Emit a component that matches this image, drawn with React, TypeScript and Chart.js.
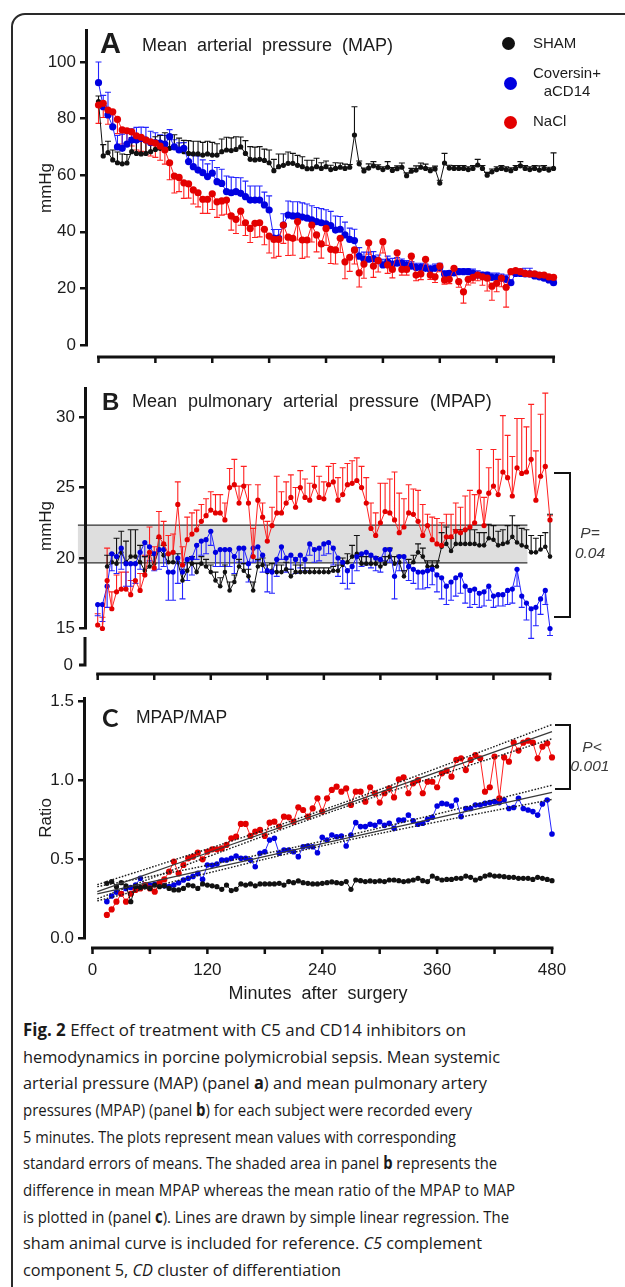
import React, { useEffect, useMemo, useRef } from "react";
import { Chart, registerables } from "chart.js";

Chart.register(...registerables);

// ---------------- data ----------------
const MINUTES_AB = Array.from({ length: 97 }, (_, i) => i * 5);
const MINUTES_C = Array.from({ length: 94 }, (_, i) => 15 + i * 5);
const X_TICKS = [0, 60, 120, 180, 240, 300, 360, 420, 480];
const X_LABELS_C = [0, 120, 240, 360, 480];
const MAP_Y_TICKS = [0, 20, 40, 60, 80, 100];
const MPAP_Y_TICKS = [15, 20, 25, 30];
const RATIO_Y_TICKS = [0, 0.5, 1.0, 1.5];

// Panel A: mean arterial pressure (mmHg)
const MAP_SHAM = [86, 66.8, 68, 65.4, 64.4, 64, 64.3, 68.3, 67.7, 67.5, 67.7, 68.3, 69.1, 69.5, 70, 69.5, 69.8, 69.1, 68.3, 67.7, 67.5, 67.5, 67.1, 67.5, 67.1, 67.1, 68.3, 68.9, 68.7, 69.1, 70, 67.7, 65.6, 65.4, 65.6, 65.2, 64.4, 61.6, 63, 63.5, 64.2, 64.2, 63.5, 63, 62.3, 62.3, 63,
  62.4, 63.0, 62.0, 62.4, 62.8, 62.4, 62.8, 74.2, 64.0, 61.5, 62.5, 63.3, 62.7, 62.0, 62.8, 61.7, 62.3, 62.8, 59.8, 61.4, 61.8, 62.8, 62.4, 61.6, 62.2, 57.2, 64.3, 62.5, 62.4, 62.4, 62.4, 62.0, 62.4, 63.6, 62.4, 60.0, 61.2, 62.0, 62.4, 62.0, 61.6, 62.4, 63.3, 62.4, 62.0, 62.4, 61.8, 62.4, 61.8, 62.4];
const MAP_SHAM_SEM = [2, 4, 4, 3.5, 3.8, 3.5, 3, 5, 4.5, 5.5, 4.5, 4, 4.5, 4.5, 5, 4.5, 4.5, 4, 4, 4.5, 4.5, 4.5, 4.5, 4.5, 4.5, 4, 4.5, 4.5, 4.5, 4.5, 3.5, 4.5, 4.5, 4.5, 4.5, 4, 4.5, 4, 4.5, 4, 4, 3.5, 3.5, 3.5, 3, 3, 3,
  2, 2, 1.5, 2, 1.5, 1.5, 1, 10, 1, 1, 1.5, 1.5, 1, 1, 2, 1, 1, 1.5, 1, 1, 1.5, 1.5, 1.5, 1, 1, 1, 3.4, 1, 1, 1, 1, 1, 1, 2, 1, 1, 1, 1, 1, 1, 1, 1, 1.5, 1, 1, 1, 1.5, 1, 1, 5.5];
const MAP_COV = [92.7, 84.2, 81.3, 77.1, 70, 69.5, 71, 72.4, 72.4, 73, 72.4, 71.5, 71.5, 71.3, 71, 73.6, 70, 68.9, 69.5, 64.8, 63, 61.8, 60.9, 59.5, 60.7, 57.7, 57.1, 54.2, 53.8, 54.2, 53.6, 52.4, 51.2, 51.2, 51.2, 49.5, 47.7, 37.8, 37.8, 42.4, 45.9, 45.6, 45.6, 45.2, 44.8, 44.2, 43.6,
  43.2, 42.8, 42.2, 40.6, 40.9, 38.9, 37.3, 36.9, 31.4, 30.3, 30.3, 30.5, 29.8, 28.3, 29.4, 28.6, 28.9, 28.9, 28.3, 27.9, 27.4, 27.4, 27.1, 26.7, 27.1, 27.4, 25.1, 25.3, 25.5, 25.9, 25.9, 25.9, 25.3, 24.7, 24.7, 24.7, 23.9, 23.9, 23.6, 23.2, 22, 25.3, 25.3, 25.1, 25.1, 24.4, 24.1, 23.6, 23, 22];
const MAP_COV_SEM = [7.3, 4, 8, 5, 4, 5, 5, 4, 4.5, 4, 4.5, 4, 3.5, 3, 3, 2.5, 2.5, 2.5, 2, 3, 4, 5, 4.5, 4.5, 4.5, 5, 5, 5.5, 5.5, 5, 5.5, 5.5, 5, 5, 5, 4.5, 5, 3, 3, 4, 5, 5, 5, 5, 5, 5, 5,
  5, 5, 5, 5, 4.5, 4.5, 4, 4, 3, 2.5, 2.5, 2.5, 2, 2, 2, 2, 2, 1.5, 1.5, 1.5, 1.5, 1.5, 1.5, 1.5, 1.5, 1.5, 1, 1, 1, 1, 1, 1, 1.5, 1.5, 1, 1, 1.5, 1.5, 1.5, 1.5, 1, 1.5, 1.5, 2, 2, 1.5, 1.5, 1.5, 1.5, 1];
const MAP_NACL = [84.8, 85.4, 83, 82.4, 79.7, 76, 75.7, 75.3, 73.9, 73.4, 72.4, 71.8, 71.3, 70.3, 68.9, 64.4, 59.7, 59.2, 57.3, 56.9, 54.8, 53.8, 51.5, 51.5, 53.4, 50.6, 50.9, 51.2, 45.6, 44.4, 47.3, 43.2, 41.2, 43, 43.2, 40.9, 38.5, 37.3, 37.3, 42.4, 38.1, 37.7, 43.6, 37.1, 37.1, 42.4, 38.9,
  35.7, 41.2, 33.8, 33.6, 37.7, 29.4, 31, 33.6, 25.5, 28.6, 36.1, 27.9, 29.8, 36.5, 28.3, 26.7, 32.6, 26.7, 26.7, 31.4, 24.7, 25.1, 30.3, 24.7, 24.1, 27.9, 23, 23.2, 27.1, 22.4, 18.8, 23.2, 23.9, 24.7, 24.1, 23.6, 20.8, 21.8, 23.6, 20.4, 25.9, 26.3, 25.9, 25.3, 25.1, 25.1, 24.7, 24.7, 24.1, 23.9];
const MAP_NACL_SEM = [6.5, 5, 5, 5, 5, 5, 4.5, 5, 5, 5, 5, 5, 5, 5, 5, 6, 6, 5, 5.5, 5, 5, 5, 5, 5, 5.5, 5.5, 5, 5, 5, 5, 5, 4.5, 5, 5, 5, 5.5, 6, 6.5, 6, 6.5, 6.5, 6, 6.5, 6.5, 6, 6, 6,
  5, 6, 5, 5, 5, 6, 5, 5, 5, 5, 4, 4, 4, 4, 3, 3, 3, 2, 2, 2, 2, 2, 2, 1.5, 2, 2, 1.5, 1.5, 2, 2, 4, 2, 2, 2, 3, 4.5, 5, 3, 3, 7, 1, 1, 1, 1, 1, 1, 1, 1, 1, 1];

// Panel B: mean pulmonary arterial pressure (mmHg)
const MPAP_SHAM = [null, null, 19.4, 19.7, 19.6, 20.4, 19.7, 20.1, 20.1, 19.7, 19.1, 19.4, 19.6, 20.6, 20.2, 19.7, 19.7, 19.7, 18.4, 19.1, 19.6, 19, 19.6, 19.4, 19, 18.4, 18, 19, 17.7, 18.3, 19.4, 19.1, 18.7, 17.7, 19.4, 19.5, 19, 19.1, 19, 19, 19.2, 18.7, 19, 19,
  19, 19, 19, 19, 19, 19, 19.1, 19.1, 19.5, 19.7, 20.1, 20.3, 19.6, 19.6, 19.6, 19.6, 19.4, 19.6, 20.1, 19.6, 19.7, 18.7, 19.4, 19.7, 20.4, 20.1, 19.4, 19.4, 19.4, 20.8, 21, 20.5, 21, 21, 21, 21, 21, 20.9, 20.9, 21.4, 21.3, 20.9, 21, 21.1, 21.5, 21.1, 20.9, 20.8, 20.4, 20.4, 20.6, 20.8, 20.1];
const MPAP_SHAM_SEM = [0, 0, 0.8, 0.6, 1.8, 1.5, 1.5, 1.9, 1.9, 1.2, 1, 0.8, 0.8, 0.8, 0.7, 0.6, 0.6, 0.6, 0.8, 0.6, 0.5, 0.6, 0.5, 0.5, 0.5, 0.6, 0.6, 0.5, 0.6, 0.5, 0.5, 0.5, 0.5, 0.6, 0.5, 0.5, 0.5, 0.5, 0.5, 0.5, 0.5, 0.5, 0.5, 0.5,
  0.3, 0.3, 0.3, 0.3, 0.3, 0.3, 0.3, 0.4, 0.5, 0.6, 0.8, 1.3, 0.5, 0.5, 0.5, 0.5, 0.4, 0.5, 0.6, 0.5, 0.5, 0.4, 0.5, 0.5, 0.6, 0.6, 0.4, 0.4, 0.4, 1.0, 1.2, 0.9, 1.0, 1.0, 1.0, 1.0, 1.0, 0.9, 0.9, 1.0, 1.0, 1.0, 1.0, 1.2, 1.5, 1.2, 1.2, 1.2, 1.2, 1.0, 1.0, 1.0, 3.0];
const MPAP_COV = [16.7, 16.7, 18, 20.3, 20.1, 20.7, 19.6, 19.6, 19.6, 20.4, 21.1, 20.8, 20.3, 20.6, 20.6, 19, 19, 20, 19, 19.9, 20, 20.9, 21.2, 21.3, 21.9, 20.4, 20.6, 20.6, 20.6, 20.1, 20.7, 20.7, 19.6, 20.7, 20.8, 20.2, 19.1, 19, 19.9, 20.8, 20, 20.2, 19.9, 20.2,
  19.9, 21, 20.6, 20.7, 21, 21.1, 20.7, 20, 19.7, 19.1, 19.4, 20.1, 20.3, 20.4, 20.2, 20, 19.9, 20.6, 20.6, 18.7, 20.1, 20.1, 19.4, 19.2, 19, 19, 19.1, 19.2, 18.8, 18.6, 18, 18.3, 18.6, 18.8, 18, 17.7, 17.8, 17.5, 17.6, 18, 17.3, 17.4, 17.4, 17.7, 17.8, 19.2, 17.3, 16.8, 16.4, 16.5, 17.1, 17.7, 15];
const MPAP_COV_SEM = [0.8, 1.2, 1.5, 1.2, 1.2, 1.5, 1.6, 1.6, 1.4, 1.2, 1, 1, 1.2, 1.4, 1.2, 2, 2, 1.8, 1.9, 1.5, 1.2, 1, 1, 1, 1, 1, 1.2, 1.2, 1.2, 1.2, 1, 1.1, 1.3, 1, 1, 1.2, 1.5, 1.5, 1.2, 0.9, 1, 1, 1, 0.9,
  0.8, 0.8, 0.9, 0.9, 0.8, 0.8, 1.2, 1.3, 1.5, 1.3, 1.2, 1, 0.9, 0.9, 0.9, 0.9, 0.9, 0.8, 0.9, 1.6, 1, 1, 1, 1, 1.2, 1.2, 1.2, 1.1, 1.2, 1.5, 1.3, 1.3, 1.3, 1.3, 1.2, 1.2, 1.1, 1, 1, 1, 0.8, 0.8, 0.8, 1, 1, 1.2, 0.8, 1.2, 2.1, 1.3, 1.1, 1, 0.5];
const MPAP_NACL = [15.25, 15, 18.4, 16.4, 17.6, 17.8, 17.8, 17.4, 18.4, 17.7, 18.8, 20.4, 19.3, 21.5, 21, 20.3, 20.4, 23.8, 19.5, 21.3, 21.7, 22, 22.6, 23, 23.4, 23.2, 23.2, 22.7, 25, 25.2, 23.9, 25.1, 23.9, 20.1, 24.1, 22.9, 21.2, 22.3, 23.2, 23.2, 23.9, 24.3, 23.6, 25,
  24.3, 24.1, 25.1, 24.3, 24.2, 25.2, 25.4, 24.1, 24.5, 25.2, 25.3, 25.5, 25.0, 23.9, 22.1, 21.6, 22.5, 23.3, 23.2, 22.7, 21.8, 22.2, 23.2, 23.1, 22.6, 21.6, 22.3, 21.3, 21.0, 20.9, 21.5, 21.5, 21.9, 21.8, 22.0, 22.2, 22.5, 24.7, 22.3, 24.6, 25.1, 24.5, 26.1, 25.7, 24.4, 26.4, 26.0, 26.1, 27.0, 24.1, 25.8, 26.5, 22.7];
const MPAP_NACL_SEM = [0.8, 0.8, 2.3, 1.2, 1.2, 1.2, 1.2, 1, 1.2, 1.2, 1.4, 1.8, 1.5, 1.8, 1.6, 1.3, 1.3, 1.6, 1.3, 1.6, 1.5, 1.4, 1.2, 1.2, 1.3, 1.3, 1.3, 1.2, 1.35, 1.8, 1.2, 1.4, 1.3, 2, 1.1, 1, 1.4, 1.3, 2.6, 1.5, 1.5, 1.6, 1.4, 1.2,
  1.3, 1.2, 1.4, 1.5, 1.2, 1.3, 1.3, 1.6, 1.9, 1.5, 1.6, 1.6, 1.5, 1.8, 1.8, 1.6, 2.8, 2.0, 2.4, 3.4, 2.8, 2.0, 2.0, 1.8, 2.2, 2.2, 0.8, 1.6, 1.8, 1.6, 1.6, 1.6, 2.0, 1.8, 2.4, 2.6, 2.0, 3.0, 2.0, 1.8, 2.6, 2.5, 4.0, 3.0, 2.8, 3.5, 3.9, 3.2, 3.9, 3.5, 4.4, 5.2, 0.3];
const MPAP_BAND_MINUTES = [-21, 456];
const MPAP_BAND_VALUES = [19.65, 22.34];

// Panel C: MPAP / MAP ratio
const RATIO_SHAM = [0.346, 0.357, 0.325, 0.35, 0.33, 0.23, 0.325, 0.32, 0.325, 0.314, 0.335, 0.325, 0.33, 0.314, 0.304, 0.304, 0.314, 0.335, 0.33, 0.314, 0.342, 0.335, 0.33, 0.325, 0.308, 0.335, 0.3, 0.308, 0.342, 0.335, 0.342, 0.33, 0.342, 0.342, 0.342, 0.342, 0.346, 0.335, 0.357, 0.35, 0.361,
  0.35, 0.346, 0.342, 0.342, 0.346, 0.35, 0.355, 0.35, 0.346, 0.357, 0.308, 0.367, 0.363, 0.357, 0.361, 0.357, 0.361, 0.357, 0.367, 0.367, 0.363, 0.357, 0.361, 0.367, 0.378, 0.363, 0.357, 0.392, 0.378, 0.367, 0.371, 0.371, 0.378, 0.378, 0.392, 0.384, 0.367, 0.378, 0.392, 0.399, 0.392, 0.392, 0.388, 0.384, 0.384, 0.378, 0.378, 0.378, 0.371, 0.384, 0.378, 0.371, 0.363];
const RATIO_COV = [0.23, 0.266, 0.29, 0.28, 0.314, 0.32, 0.335, 0.378, 0.33, 0.335, 0.34, 0.35, 0.33, 0.325, 0.335, 0.35, 0.367, 0.378, 0.39, 0.409, 0.371, 0.462, 0.46, 0.468, 0.494, 0.494, 0.504, 0.519, 0.504, 0.504, 0.494, 0.451, 0.536, 0.546, 0.62, 0.631, 0.536, 0.557, 0.557, 0.546, 0.515,
  0.578, 0.582, 0.578, 0.54, 0.637, 0.62, 0.652, 0.641, 0.646, 0.582, 0.652, 0.73, 0.705, 0.705, 0.72, 0.713, 0.736, 0.713, 0.726, 0.694, 0.747, 0.747, 0.778, 0.742, 0.72, 0.726, 0.751, 0.764, 0.835, 0.852, 0.848, 0.835, 0.873, 0.768, 0.82, 0.82, 0.842, 0.842, 0.852, 0.857, 0.863, 0.857, 0.873, 0.82, 0.826, 0.884, 0.82, 0.81, 0.8, 0.778, 0.848, 0.873, 0.658];
const RATIO_NACL = [0.146, 0.181, 0.23, 0.28, 0.23, 0.28, 0.304, 0.314, 0.335, 0.314, 0.293, 0.35, 0.371, 0.42, 0.483, 0.409, 0.462, 0.504, 0.515, 0.54, 0.498, 0.546, 0.561, 0.561, 0.567, 0.589, 0.631, 0.641, 0.722, 0.722, 0.646, 0.673, 0.684, 0.646, 0.73, 0.736, 0.705, 0.768, 0.764, 0.736, 0.827,
  0.81, 0.768, 0.82, 0.884, 0.8, 0.884, 0.937, 0.958, 0.926, 0.947, 0.842, 0.926, 0.926, 0.863, 0.954, 0.916, 0.857, 0.916, 0.947, 0.89, 1.004, 1.017, 0.916, 0.979, 1.0, 0.916, 0.989, 0.989, 0.954, 1.042, 1.059, 1.021, 1.127, 1.137, 1.063, 1.127, 1.158, 1.137, 0.926, 0.954, 1.148, 0.884, 1.143, 1.116, 1.236, 1.186, 1.236, 1.249, 1.236, 1.137, 1.211, 1.232, 1.143];
const REG_MINUTES = [5, 120, 240, 360, 480];
const REG_NACL = [0.293, 0.538, 0.794, 1.05, 1.306];
const REG_NACL_HI = [0.338, 0.563, 0.809, 1.075, 1.351];
const REG_NACL_LO = [0.248, 0.513, 0.779, 1.025, 1.261];
const REG_COV = [0.28, 0.435, 0.598, 0.76, 0.922];
const REG_COV_HI = [0.325, 0.46, 0.613, 0.785, 0.967];
const REG_COV_LO = [0.235, 0.41, 0.583, 0.735, 0.877];

// ---------------- styling ----------------
const FONT = '"Liberation Sans", Arial, Helvetica, sans-serif';
const CAP_FONT = '"Open Sans", "Noto Sans", sans-serif';
const RED = "#e30000";
const RED_LINE = "#ff2020";
const BLUE = "#0000e0";
const BLUE_LINE = "#2424ff";
const BLACK = "#111111";
const TEXT = "#1c1c1c";

function pts(times: number[], vals: (number | null)[]) {
  return times.map((t, i) => ({ x: t, y: vals[i] }));
}

function series(times: number[], vals: any[], color: string, line: string, r: number, errs?: number[], dir?: number) {
  return {
    data: pts(times, vals),
    borderColor: line,
    backgroundColor: color,
    pointBackgroundColor: color,
    pointBorderColor: color,
    pointRadius: r,
    pointHoverRadius: r,
    pointBorderWidth: 0,
    borderWidth: 1,
    tension: 0,
    clip: false,
    errors: errs,
    errDir: dir,
    errColor: line,
  };
}

function regLine(vals: number[], dotted: boolean) {
  return {
    data: pts(REG_MINUTES, vals),
    borderColor: dotted ? "#1e1e1e" : "#3a3a3a",
    borderWidth: dotted ? 1.4 : 1.3,
    borderDash: dotted ? [1.6, 1.6] : [],
    pointRadius: 0,
    tension: dotted ? 0.4 : 0,
    fill: false,
    clip: false,
  };
}

const decor = {
  id: "decor",
  beforeDraw(chart: any, _a: any, o: any) {
    if (!o || !o.band) return;
    const { ctx } = chart;
    const x = chart.scales.x;
    const y = chart.scales.y;
    const xl = x.getPixelForValue(o.band.t[0]);
    const xr = x.getPixelForValue(o.band.t[1]);
    const yt = y.getPixelForValue(o.band.v[1]);
    const yb = y.getPixelForValue(o.band.v[0]);
    ctx.save();
    ctx.fillStyle = "#dedede";
    ctx.fillRect(xl, yt, xr - xl, yb - yt);
    ctx.strokeStyle = "#333";
    ctx.lineWidth = 1.2;
    ctx.beginPath();
    ctx.moveTo(xl, yt);
    ctx.lineTo(xr, yt);
    ctx.moveTo(xl, yb);
    ctx.lineTo(xr, yb);
    ctx.stroke();
    ctx.restore();
  },
  beforeDatasetsDraw(chart: any) {
    const { ctx } = chart;
    const ys = chart.scales.y;
    chart.data.datasets.forEach((ds: any, i: number) => {
      if (!ds.errors) return;
      const meta = chart.getDatasetMeta(i);
      ctx.save();
      ctx.strokeStyle = ds.errColor;
      ctx.lineWidth = 1.1;
      ctx.beginPath();
      meta.data.forEach((pt: any, j: number) => {
        const v = ds.data[j].y;
        const e = ds.errors[j];
        if (v == null || !e) return;
        const ye = ys.getPixelForValue(v + ds.errDir * e);
        ctx.moveTo(pt.x, pt.y);
        ctx.lineTo(pt.x, ye);
        ctx.moveTo(pt.x - 3, ye);
        ctx.lineTo(pt.x + 3, ye);
      });
      ctx.stroke();
      ctx.restore();
    });
  },
  afterDraw(chart: any, _a: any, o: any) {
    if (!o) return;
    const { ctx, chartArea } = chart;
    const xs = chart.scales.x;
    const yb = chartArea.bottom + o.axisOffset;
    ctx.save();
    ctx.strokeStyle = BLACK;
    ctx.lineWidth = 3;
    ctx.beginPath();
    ctx.moveTo(xs.getPixelForValue(X_TICKS[0]) - 1.5, yb);
    ctx.lineTo(xs.getPixelForValue(X_TICKS[X_TICKS.length - 1]) + 1.5, yb);
    ctx.stroke();
    ctx.lineWidth = 2.5;
    ctx.beginPath();
    X_TICKS.forEach((t) => {
      const px = xs.getPixelForValue(t);
      ctx.moveTo(px, yb);
      ctx.lineTo(px, yb + 6);
    });
    ctx.stroke();
    if (o.axisBreak) {
      const lx = chartArea.left;
      const y0 = chartArea.bottom + 8.5;
      const y1 = chartArea.bottom + 36.5;
      ctx.lineWidth = 3;
      ctx.beginPath();
      ctx.moveTo(lx, y0);
      ctx.lineTo(lx, y1);
      ctx.moveTo(lx + 1.5, y1);
      ctx.lineTo(lx - 6, y1);
      ctx.stroke();
      ctx.fillStyle = TEXT;
      ctx.font = `17px ${FONT}`;
      ctx.textAlign = "right";
      ctx.textBaseline = "middle";
      ctx.fillText(o.axisBreak, lx - 12, y1);
    }
    ctx.restore();
  },
};

function yAxis(min: number, max: number, ticks: number[], width: number, fmt: (v: number) => string) {
  return {
    type: "linear",
    position: "left",
    min,
    max,
    afterBuildTicks: (s: any) => {
      s.ticks = ticks.map((v) => ({ value: v }));
    },
    afterFit: (s: any) => {
      s.width = width;
    },
    ticks: { font: { family: FONT, size: 17 }, color: TEXT, padding: 4, callback: (v: any) => fmt(Number(v)) },
    grid: { display: true, drawOnChartArea: false, drawTicks: true, tickLength: 6, color: BLACK, lineWidth: 2.5 },
    border: { display: true, color: BLACK, width: 3 },
  };
}

function baseOptions(top: number, bottom: number, scales: any, decorOpts: any) {
  return {
    responsive: false,
    animation: false,
    events: [],
    layout: { padding: { left: 0, right: 63, top, bottom }, autoPadding: false },
    plugins: { legend: { display: false }, tooltip: { enabled: false }, decor: decorOpts },
    scales,
  };
}

function buildA() {
  return {
    type: "line",
    data: {
      datasets: [
        series(MINUTES_AB, MAP_NACL, RED, RED_LINE, 3.6, MAP_NACL_SEM, -1),
        series(MINUTES_AB, MAP_COV, BLUE, BLUE_LINE, 3.6, MAP_COV_SEM, 1),
        series(MINUTES_AB, MAP_SHAM, BLACK, BLACK, 2.6, MAP_SHAM_SEM, 1),
      ],
    },
    options: baseOptions(30, 35, {
      x: { type: "linear", min: -13.19, max: 488.92, display: false },
      y: yAxis(0, 111.3, MAP_Y_TICKS, 86, (v) => String(v)),
    }, { axisOffset: 12 }),
    plugins: [decor],
  };
}

function buildB() {
  return {
    type: "line",
    data: {
      datasets: [
        series(MINUTES_AB, MPAP_NACL, RED, RED_LINE, 2.6, MPAP_NACL_SEM, 1),
        series(MINUTES_AB, MPAP_COV, BLUE, BLUE_LINE, 2.6, MPAP_COV_SEM, -1),
        series(MINUTES_AB, MPAP_SHAM, BLACK, BLACK, 2.3, MPAP_SHAM_SEM, 1),
      ],
    },
    options: baseOptions(18, 61.5, {
      x: { type: "linear", min: -13.48, max: 492.73, display: false },
      y: yAxis(15, 32.06, MPAP_Y_TICKS, 85, (v) => String(v)),
    }, { axisOffset: 45.5, axisBreak: "0", band: { t: MPAP_BAND_MINUTES, v: MPAP_BAND_VALUES } }),
    plugins: [decor],
  };
}

function buildC() {
  return {
    type: "line",
    data: {
      datasets: [
        regLine(REG_NACL, false),
        regLine(REG_NACL_HI, true),
        regLine(REG_NACL_LO, true),
        regLine(REG_COV, false),
        regLine(REG_COV_HI, true),
        regLine(REG_COV_LO, true),
        series(MINUTES_C, RATIO_SHAM, BLACK, BLACK, 2.6),
        series(MINUTES_C, RATIO_NACL, RED, RED_LINE, 3.1),
        series(MINUTES_C, RATIO_COV, BLUE, BLUE_LINE, 2.8),
      ],
    },
    options: baseOptions(28, 0, {
      x: {
        type: "linear",
        min: -8.88,
        max: 490.45,
        display: true,
        afterBuildTicks: (s: any) => {
          s.ticks = X_LABELS_C.map((v) => ({ value: v }));
        },
        afterFit: (s: any) => {
          s.height = 62;
        },
        ticks: { font: { family: FONT, size: 17 }, color: TEXT, padding: 22, maxRotation: 0, autoSkip: false, callback: (v: any) => String(v) },
        grid: { display: false, drawTicks: false, tickLength: 0 },
        border: { display: false },
      },
      y: yAxis(0, 1.519, RATIO_Y_TICKS, 84, (v) => v.toFixed(1)),
    }, { axisOffset: 10 }),
    plugins: [decor],
  };
}

function PanelCanvas({ top, height, build }: { top: number; height: number; build: () => any }) {
  const ref = useRef<HTMLCanvasElement>(null);
  useEffect(() => {
    const chart = new Chart(ref.current as HTMLCanvasElement, build() as any);
    return () => chart.destroy();
  }, []);
  return (
    <canvas
      ref={ref}
      width={625}
      height={height}
      style={{ position: "absolute", left: 0, top, width: 625, height, display: "block" }}
    />
  );
}

function Txt(p: any) {
  const { x, y, size, children, align = "left", bold, italic, family = FONT, color = TEXT, ws, rotate } = p;
  const tx = align === "left" ? "0%" : align === "center" ? "-50%" : "-100%";
  return (
    <div
      style={{
        position: "absolute",
        left: x,
        top: y,
        transform: `translate(${tx}, -50%)${rotate ? ` rotate(${rotate}deg)` : ""}`,
        fontFamily: family,
        fontSize: size,
        fontWeight: bold ? 700 : 400,
        fontStyle: italic ? "italic" : "normal",
        lineHeight: 1.15,
        whiteSpace: "pre",
        color,
        wordSpacing: ws,
      }}
    >
      {children}
    </div>
  );
}

function Dot({ x, y, color }: { x: number; y: number; color: string }) {
  return (
    <div style={{ position: "absolute", left: x - 6.5, top: y - 6.5, width: 13, height: 13, borderRadius: "50%", background: color }} />
  );
}

type Seg = { t: string; b?: boolean; i?: boolean };
const CAPTION: Seg[][] = [
  [{ t: "Fig. 2", b: true }, { t: " Effect of treatment with C5 and CD14 inhibitors on" }],
  [{ t: "hemodynamics in porcine polymicrobial sepsis. Mean systemic" }],
  [{ t: "arterial pressure (MAP) (panel " }, { t: "a", b: true }, { t: ") and mean pulmonary artery" }],
  [{ t: "pressures (MPAP) (panel " }, { t: "b", b: true }, { t: ") for each subject were recorded every" }],
  [{ t: "5 minutes. The plots represent mean values with corresponding" }],
  [{ t: "standard errors of means. The shaded area in panel " }, { t: "b", b: true }, { t: " represents the" }],
  [{ t: "difference in mean MPAP whereas the mean ratio of the MPAP to MAP" }],
  [{ t: "is plotted in (panel " }, { t: "c", b: true }, { t: "). Lines are drawn by simple linear regression. The" }],
  [{ t: "sham animal curve is included for reference. " }, { t: "C5", i: true }, { t: " complement" }],
  [{ t: "component 5, " }, { t: "CD", i: true }, { t: " cluster of differentiation" }],
];
const CAPTION_RIGHT = [466, 500, 487, 472, 456, 497, 515, 509, 482, 341];
const CAPTION_LEFT = 23;
const CAPTION_TOP = 1030;
const CAPTION_STEP = 26.67;
const CAPTION_SIZE = 17;

function Caption() {
  const layout = useMemo(() => {
    const c = document.createElement("canvas").getContext("2d") as CanvasRenderingContext2D;
    return CAPTION.map((segs, k) => {
      let w = 0;
      let spaces = 0;
      segs.forEach((s) => {
        c.font = `${s.i ? "italic " : ""}${s.b ? "bold " : ""}${CAPTION_SIZE}px ${CAP_FONT}`;
        w += c.measureText(s.t).width;
        spaces += (s.t.match(/ /g) || []).length;
      });
      const target = CAPTION_RIGHT[k] - CAPTION_LEFT;
      if (w <= target) return { scale: 1, ws: spaces ? (target - w) / spaces : 0 };
      return { scale: target / w, ws: 0 };
    });
  }, []);
  return (
    <>
      {CAPTION.map((segs, k) => (
        <div
          key={k}
          style={{
            position: "absolute",
            left: CAPTION_LEFT,
            top: CAPTION_TOP + k * CAPTION_STEP,
            transform: `translateY(-50%) scaleX(${layout[k].scale})`,
            transformOrigin: "0 50%",
            whiteSpace: "pre",
            fontFamily: CAP_FONT,
            fontSize: CAPTION_SIZE,
            lineHeight: 1.15,
            color: "#1a1a1a",
            wordSpacing: layout[k].ws,
          }}
        >
          {segs.map((s, j) => (
            <span key={j} style={{ fontWeight: s.b ? 700 : 400, fontStyle: s.i ? "italic" : "normal" }}>
              {s.t}
            </span>
          ))}
        </div>
      ))}
    </>
  );
}

export default function App() {
  return (
    <div style={{ position: "absolute", left: 0, top: 0, width: 625, height: 1287, overflow: "hidden", background: "#fff" }}>
      <div
        style={{
          position: "absolute",
          left: 10.5,
          top: 12.5,
          width: 700,
          height: 1400,
          border: "2px solid #2a2a2a",
          borderRadius: 14,
          boxSizing: "border-box",
        }}
      />
      <PanelCanvas top={0} height={380} build={buildA} />
      <PanelCanvas top={370} height={320} build={buildB} />
      <PanelCanvas top={670} height={330} build={buildC} />

      {/* Panel A texts */}
      <Txt x={100} y={43.5} size={29} bold>A</Txt>
      <Txt x={142} y={45} size={18} ws={5}>Mean arterial pressure (MAP)</Txt>
      <Txt x={46} y={188} size={17} align="center" rotate={-90}>mmHg</Txt>
      <Dot x={508} y={43} color={BLACK} />
      <Dot x={510} y={83} color={BLUE} />
      <Dot x={510} y={122} color={RED} />
      <Txt x={533} y={43} size={15}>SHAM</Txt>
      <Txt x={567} y={73} size={15} align="center">Coversin+</Txt>
      <Txt x={567} y={91} size={15} align="center">aCD14</Txt>
      <Txt x={533} y={121} size={15}>NaCl</Txt>

      {/* Panel B texts */}
      <Txt x={102} y={402} size={24} bold>B</Txt>
      <Txt x={132} y={401} size={18} ws={6}>Mean pulmonary arterial pressure (MPAP)</Txt>
      <Txt x={46} y={526} size={17} align="center" rotate={-90}>mmHg</Txt>
      <div style={{ position: "absolute", left: 554, top: 471.5, width: 16.5, height: 146.5, boxSizing: "border-box", border: "2.5px solid #111", borderLeft: "none" }} />
      <Txt x={590} y={533} size={15.5} italic align="center" color="#3a3a3a">P=</Txt>
      <Txt x={590} y={553} size={15.5} italic align="center" color="#3a3a3a">0.04</Txt>

      {/* Panel C texts */}
      <Txt x={102} y={716.5} size={25} bold family='Lato, "Liberation Sans", sans-serif'>C</Txt>
      <Txt x={136} y={716.5} size={17.5}>MPAP/MAP</Txt>
      <Txt x={46} y={818} size={17} align="center" rotate={-90}>Ratio</Txt>
      <div style={{ position: "absolute", left: 555, top: 723.75, width: 15.5, height: 66.5, boxSizing: "border-box", border: "2.5px solid #111", borderLeft: "none" }} />
      <Txt x={592} y={747} size={15.5} italic align="center" color="#3a3a3a">P&lt;</Txt>
      <Txt x={590} y={766} size={15.5} italic align="center" color="#3a3a3a">0.001</Txt>
      <Txt x={318} y={993} size={18} align="center" ws={5}>Minutes after surgery</Txt>

      <Caption />
    </div>
  );
}
